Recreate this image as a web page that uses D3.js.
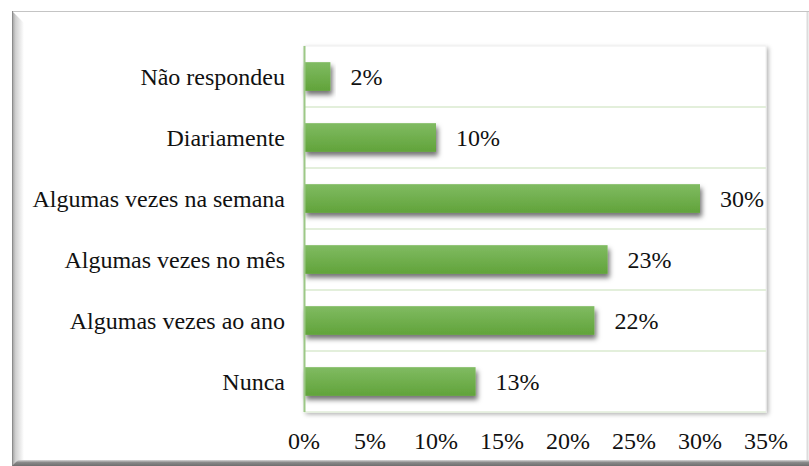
<!DOCTYPE html>
<html>
<head>
<meta charset="utf-8">
<script src="https://cdn.jsdelivr.net/npm/d3@7"></script>
<style>
  body { margin: 0; background: white; }
  svg { display: block; }
</style>
</head>
<body>
<svg></svg>
<script>
const categories = ["Não respondeu", "Diariamente", "Algumas vezes na semana",
    "Algumas vezes no mês", "Algumas vezes ao ano", "Nunca"];
const values = [2, 10, 30, 23, 22, 13];
const ticks = [0, 5, 10, 15, 20, 25, 30, 35];

const svg_width = 809;
const svg_height = 466;
const svg = d3.select("svg")
    .attr("width", svg_width)
    .attr("height", svg_height)
    .attr("font-family", "'Liberation Serif', 'Times New Roman', serif");

const plot = {left: 304, right: 766, top: 46, bottom: 412};
const font_size = 24;

const defs = svg.append("defs");

const barGrad = defs.append("linearGradient")
    .attr("id", "barGrad")
    .attr("x1", 0).attr("x2", 0).attr("y1", 0).attr("y2", 1);
barGrad.append("stop").attr("offset", "0%").attr("stop-color", "#80bb62");
barGrad.append("stop").attr("offset", "100%").attr("stop-color", "#61a33a");

const leftGrad = defs.append("linearGradient")
    .attr("id", "leftGrad")
    .attr("x1", 0).attr("x2", 1).attr("y1", 0).attr("y2", 0);
leftGrad.append("stop").attr("offset", "0%").attr("stop-color", "#9a9a9a");
leftGrad.append("stop").attr("offset", "30%").attr("stop-color", "#d0d0d0");
leftGrad.append("stop").attr("offset", "100%").attr("stop-color", "#ffffff");

const bottomGrad = defs.append("linearGradient")
    .attr("id", "bottomGrad")
    .attr("x1", 0).attr("x2", 0).attr("y1", 0).attr("y2", 1);
bottomGrad.append("stop").attr("offset", "0%").attr("stop-color", "#d8d8d8");
bottomGrad.append("stop").attr("offset", "40%").attr("stop-color", "#8a8a8a");
bottomGrad.append("stop").attr("offset", "100%").attr("stop-color", "#6e6e6e");

const barShadow = defs.append("filter")
    .attr("id", "barShadow")
    .attr("x", "-10%").attr("y", "-30%").attr("width", "130%").attr("height", "180%");
barShadow.append("feDropShadow")
    .attr("dx", 2).attr("dy", 4).attr("stdDeviation", 2.5)
    .attr("flood-color", "#000").attr("flood-opacity", 0.55);

const plotShadow = defs.append("filter")
    .attr("id", "plotShadow")
    .attr("x", "-5%").attr("y", "-5%").attr("width", "110%").attr("height", "110%");
plotShadow.append("feDropShadow")
    .attr("dx", 2).attr("dy", 2).attr("stdDeviation", 2)
    .attr("flood-color", "#000").attr("flood-opacity", 0.3);

// outer frame
svg.append("rect")
    .attr("x", 12).attr("y", 11)
    .attr("width", svg_width - 12).attr("height", svg_height - 11)
    .attr("fill", "white");
svg.append("line")
    .attr("x1", 12).attr("x2", svg_width)
    .attr("y1", 11.5).attr("y2", 11.5)
    .attr("stroke", "#c4c4c4");
svg.append("path")
    .attr("d", `M12,11 L24,23 L24,${svg_height - 5} L12,${svg_height} Z`)
    .attr("fill", "url(#leftGrad)");
svg.append("line")
    .attr("x1", 12.5).attr("x2", 12.5)
    .attr("y1", 11).attr("y2", svg_height)
    .attr("stroke", "#8c8c8c");
svg.append("path")
    .attr("d", `M18,${svg_height - 6} L${svg_width},${svg_height - 6} L${svg_width},${svg_height} L12,${svg_height} Z`)
    .attr("fill", "url(#bottomGrad)");
svg.append("line")
    .attr("x1", svg_width - 1.5).attr("x2", svg_width - 1.5)
    .attr("y1", 12).attr("y2", svg_height - 6)
    .attr("stroke", "#dcdcdc").attr("stroke-width", 2);

// plot area
svg.append("rect")
    .attr("x", plot.left).attr("y", plot.top)
    .attr("width", plot.right - plot.left)
    .attr("height", plot.bottom - plot.top)
    .attr("fill", "white")
    .attr("stroke", "#eeeeee")
    .attr("filter", "url(#plotShadow)");

const x = d3.scaleLinear()
    .domain([0, 35])
    .range([plot.left, plot.right]);

const y = d3.scaleBand()
    .domain(categories)
    .range([plot.top, plot.bottom])
    .paddingInner(0.53)
    .paddingOuter(0.265);

const yGrid = d3.scaleBand()
    .domain(categories)
    .range([plot.top, plot.bottom]);

// gridlines between categories
svg.append("g")
    .selectAll("line")
    .data(categories.slice(1))
    .join("line")
    .attr("x1", plot.left).attr("x2", plot.right)
    .attr("y1", d => yGrid(d)).attr("y2", d => yGrid(d))
    .attr("stroke", "#e3efdb").attr("stroke-width", 2);

svg.append("line")
    .attr("x1", plot.left).attr("x2", plot.right)
    .attr("y1", plot.bottom).attr("y2", plot.bottom)
    .attr("stroke", "#e3efdb").attr("stroke-width", 1.5);

// bars
svg.append("g")
    .selectAll("rect")
    .data(values)
    .join("rect")
    .attr("x", x(0))
    .attr("y", (d, i) => y(categories[i]))
    .attr("width", d => x(d) - x(0))
    .attr("height", y.bandwidth())
    .attr("fill", "url(#barGrad)")
    .attr("filter", "url(#barShadow)");

// vertical axis line
svg.append("line")
    .attr("x1", plot.left + 0.5).attr("x2", plot.left + 0.5)
    .attr("y1", plot.top).attr("y2", plot.bottom)
    .attr("stroke", "#9cc886").attr("stroke-width", 2);

// data labels
svg.append("g")
    .selectAll("text")
    .data(values)
    .join("text")
    .attr("x", d => x(d) + 20)
    .attr("y", (d, i) => yGrid(categories[i]) + yGrid.bandwidth() / 2)
    .attr("dy", "0.35em")
    .attr("font-size", font_size)
    .attr("fill", "#111")
    .text(d => d + "%");

// category labels
svg.append("g")
    .selectAll("text")
    .data(categories)
    .join("text")
    .attr("x", 285)
    .attr("y", d => yGrid(d) + yGrid.bandwidth() / 2)
    .attr("dy", "0.35em")
    .attr("text-anchor", "end")
    .attr("font-size", font_size)
    .attr("fill", "#111")
    .text(d => d);

// x tick labels
svg.append("g")
    .selectAll("text")
    .data(ticks)
    .join("text")
    .attr("x", d => x(d))
    .attr("y", 441)
    .attr("dy", "0.35em")
    .attr("text-anchor", "middle")
    .attr("font-size", font_size)
    .attr("fill", "#111")
    .text(d => d + "%");
</script>
</body>
</html>
